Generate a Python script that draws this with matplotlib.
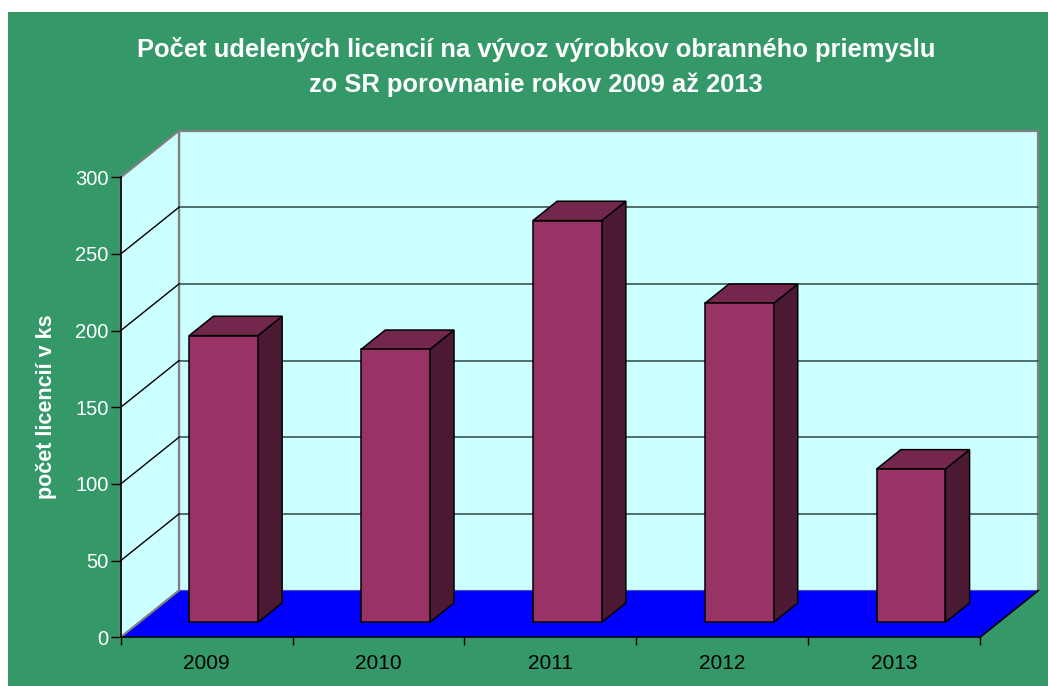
import matplotlib
matplotlib.use("Agg")
import matplotlib.pyplot as plt
from matplotlib.patches import Polygon, Rectangle

years = ["2009", "2010", "2011", "2012", "2013"]
licences = [187, 178, 262, 208, 100]
y_ticks = [0, 50, 100, 150, 200, 250, 300]
title_lines = ["Počet udelených licencií na vývoz výrobkov obranného priemyslu",
               "zo SR porovnanie rokov 2009 až 2013"]
y_label = "počet licencií v ks"

W, H = 1048, 686
plt.rcParams['font.family'] = ['Liberation Sans', 'DejaVu Sans']
fig = plt.figure(figsize=(W / 100, H / 100), dpi=100)
fig.patch.set_facecolor("white")
fig.patches.append(Rectangle((8 / W, 0), 1 - 8 / W, (H - 12) / H,
                             transform=fig.transFigure, facecolor="#359869",
                             edgecolor="none", zorder=-10))

# front plane placement
x0p, x1p, y0p, y1p = 120.7, 980.0, 637.3, 177.3
ax = fig.add_axes([x0p / W, (H - y0p) / H, (x1p - x0p) / W, (y0p - y1p) / H])
ax.set_facecolor("none")
n = len(years)
ymax = y_ticks[-1]
ax.set_xlim(0, n)
ax.set_ylim(0, ymax)

# depth vector in data units
px_per_x = (x1p - x0p) / n
px_per_y = (y0p - y1p) / ymax
Dx = 58.3 / px_per_x
Dy = 46.7 / px_per_y

wall_c = "#CCFFFF"
border_c = "#808080"
# back wall
ax.add_patch(Polygon([(Dx, Dy), (n + Dx, Dy), (n + Dx, ymax + Dy), (Dx, ymax + Dy)],
                     closed=True, facecolor=wall_c, edgecolor=border_c, lw=1.6,
                     clip_on=False, zorder=1))
# left wall
ax.add_patch(Polygon([(0, 0), (Dx, Dy), (Dx, ymax + Dy), (0, ymax)],
                     closed=True, facecolor=wall_c, edgecolor=border_c, lw=1.6,
                     clip_on=False, zorder=1))
# gridlines
for v in y_ticks[1:-1]:
    ax.plot([Dx, n + Dx], [v + Dy, v + Dy], color="#46625f", lw=1.3,
            clip_on=False, zorder=2)
    ax.plot([0, Dx], [v, v + Dy], color="black", lw=1.0, clip_on=False, zorder=2)
# floor
ax.add_patch(Polygon([(0, 0), (n, 0), (n + Dx, Dy), (Dx, Dy)], closed=True,
                     facecolor="#0000FF", edgecolor="none", clip_on=False, zorder=3))
ax.plot([0, Dx], [0, Dy], color=border_c, lw=1.4, clip_on=False, zorder=3)
ax.plot([n, n + Dx], [0, Dy], color="black", lw=1.2, clip_on=False, zorder=3)

# bars
f0, f1 = 0.32, 0.735
bw = 0.4
bar_shift = -0.01
front_c, top_c, side_c = "#993366", "#73274C", "#4C1A33"
for i, v in enumerate(licences):
    xa = i + 0.5 + bar_shift - bw / 2
    xb = xa + bw
    ax0, ay0 = f0 * Dx, f0 * Dy
    ax1, ay1 = f1 * Dx, f1 * Dy
    ax.add_patch(Polygon([(xb + ax0, ay0), (xb + ax1, ay1), (xb + ax1, v + ay1), (xb + ax0, v + ay0)],
                         closed=True, facecolor=side_c, edgecolor="black", lw=1.1,
                         clip_on=False, zorder=5))
    ax.add_patch(Polygon([(xa + ax0, v + ay0), (xb + ax0, v + ay0), (xb + ax1, v + ay1), (xa + ax1, v + ay1)],
                         closed=True, facecolor=top_c, edgecolor="black", lw=1.1,
                         clip_on=False, zorder=5))
    ax.add_patch(Rectangle((xa + ax0, ay0), bw, v, facecolor=front_c,
                           edgecolor="black", lw=1.1, clip_on=False, zorder=6))

# axes & ticks
for s in ["top", "right"]:
    ax.spines[s].set_visible(False)
for s in ["left", "bottom"]:
    ax.spines[s].set_color("black")
    ax.spines[s].set_linewidth(1.1)
    ax.spines[s].set_zorder(7)
ax.set_yticks(y_ticks)
ax.set_yticklabels([str(t) for t in y_ticks])
ax.tick_params(axis="y", direction="out", length=7.5, width=1, color="black",
               labelcolor="white", labelsize=14.5, pad=1.2)
ax.set_xticks(range(n + 1))
ax.set_xticklabels([])
ax.tick_params(axis="x", which="major", direction="out", length=5.5, width=1, color="black")
ax.set_xticks([i + 0.5 for i in range(n)], minor=True)
ax.set_xticklabels(years, minor=True)
ax.tick_params(axis="x", which="minor", length=0, labelsize=15, labelcolor="black", pad=12)

# texts
fig.text(536 / W, (H - 57) / H, title_lines[0], ha="center", va="baseline",
         color="white", fontsize=18.4, fontweight="bold")
fig.text(536 / W, (H - 92) / H, title_lines[1], ha="center", va="baseline",
         color="white", fontsize=18.4, fontweight="bold")
fig.text(46.7 / W, (H - 406.7) / H, y_label, ha="center", va="center",
         rotation=90, color="white", fontsize=15.5, fontweight="bold")

fig.savefig("out.png", dpi=100, facecolor=fig.get_facecolor())
